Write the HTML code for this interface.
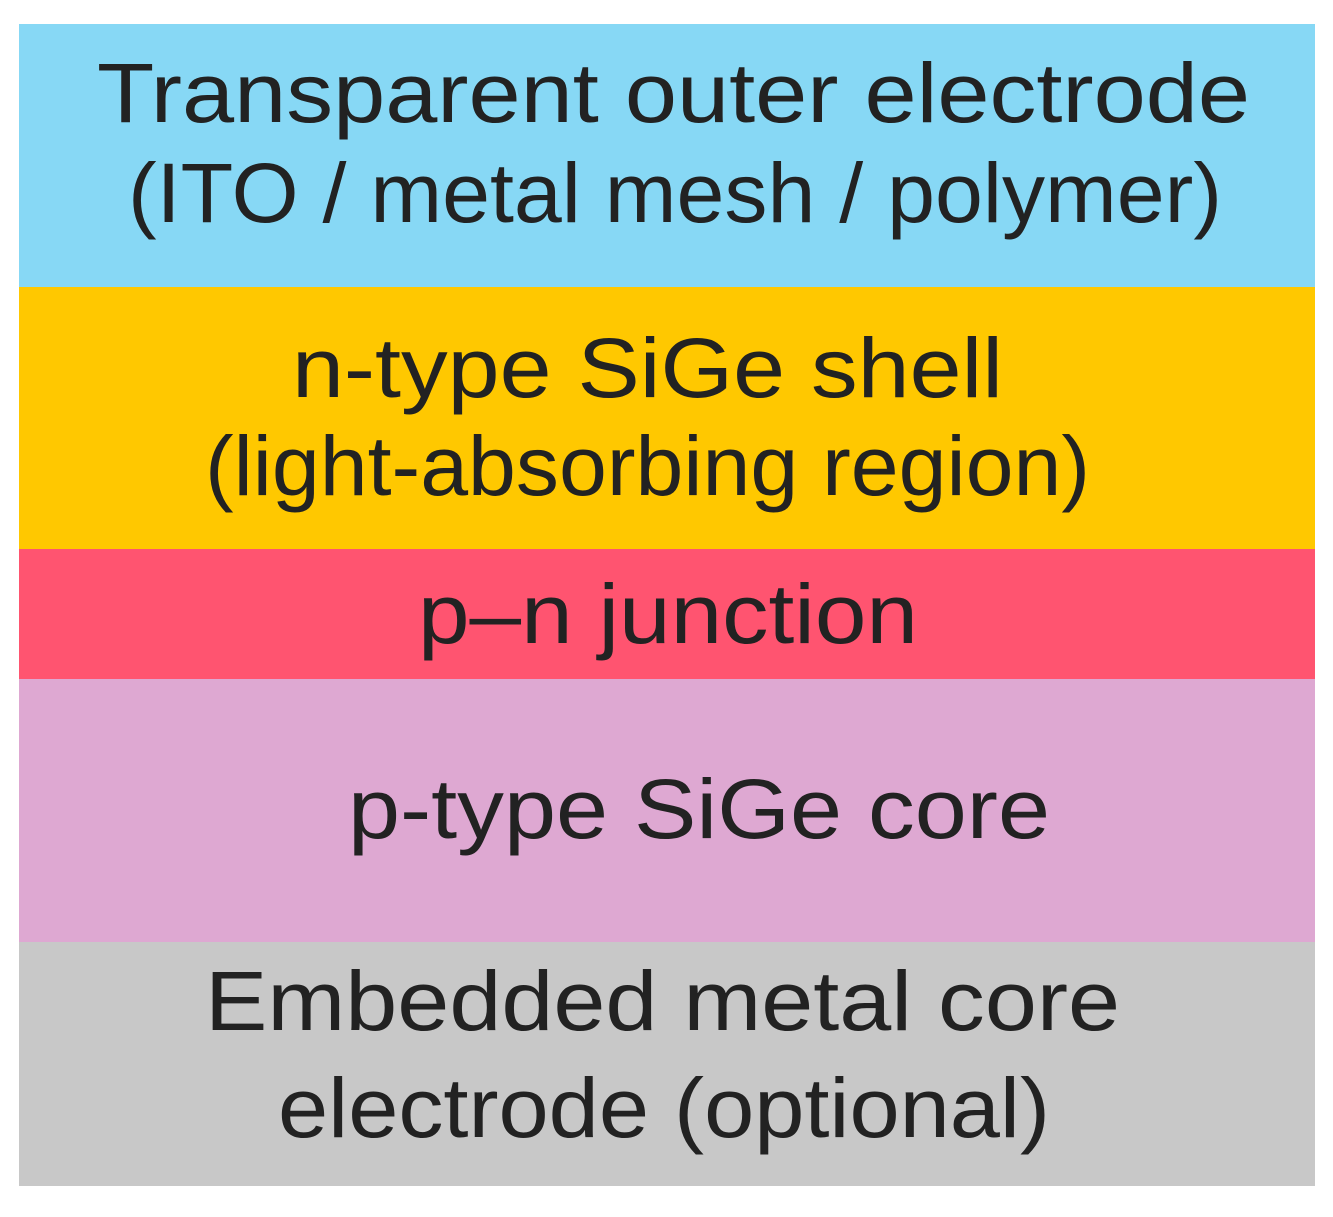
<!DOCTYPE html>
<html><head><style>body{margin:0;background:#fff}svg{display:block}</style></head><body>
<svg width="1333" height="1217" viewBox="0 0 1333 1217" xmlns="http://www.w3.org/2000/svg">
<rect x="19" y="24" width="1296" height="263" fill="#87d8f5"/>
<rect x="19" y="287" width="1296" height="262" fill="#ffc800"/>
<rect x="19" y="549" width="1296" height="130" fill="#ff5470"/>
<rect x="19" y="679" width="1296" height="263" fill="#dea8d2"/>
<rect x="19" y="942" width="1296" height="244" fill="#c8c8c8"/>
<g font-family="Liberation Sans, Arial, sans-serif" font-size="84" fill="#222" lengthAdjust="spacingAndGlyphs">
<text x="97" y="122" textLength="1153" lengthAdjust="spacingAndGlyphs">Transparent outer electrode</text>
<text x="128" y="222" textLength="1094" lengthAdjust="spacingAndGlyphs">(ITO / metal mesh / polymer)</text>
<text x="292" y="397" textLength="711" lengthAdjust="spacingAndGlyphs">n-type SiGe shell</text>
<text x="205" y="495" textLength="885" lengthAdjust="spacingAndGlyphs">(light-absorbing region)</text>
<text x="418" y="643" textLength="500" lengthAdjust="spacingAndGlyphs">p–n junction</text>
<text x="348" y="838" textLength="702" lengthAdjust="spacingAndGlyphs">p-type SiGe core</text>
<text x="205" y="1030" textLength="915" lengthAdjust="spacingAndGlyphs">Embedded metal core</text>
<text x="278" y="1137" textLength="772" lengthAdjust="spacingAndGlyphs">electrode (optional)</text>
</g>
</svg>
</body></html>
